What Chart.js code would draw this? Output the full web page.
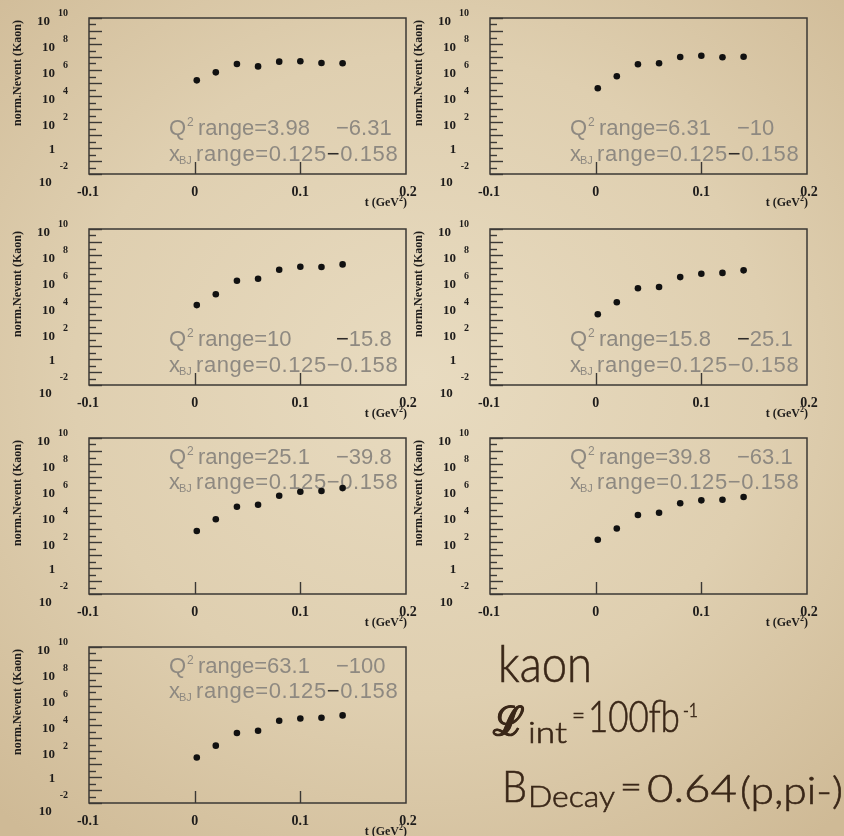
<!DOCTYPE html>
<html><head><meta charset="utf-8">
<script src="https://cdn.jsdelivr.net/npm/chart.js@4.4.1/dist/chart.umd.min.js"></script>
<style>
html,body{margin:0;padding:0;width:844px;height:836px;overflow:hidden;}
#page{position:relative;width:844px;height:836px;
  background:radial-gradient(ellipse 75% 70% at 50% 45%, #e8dbc0 0%, #dfcfb0 55%, #cfba96 100%);}
canvas{position:absolute;}
</style></head>
<body><div id="page">
<canvas id="p0" width="420" height="210" style="left:0;top:0"></canvas>
<canvas id="p1" width="420" height="210" style="left:401px;top:0"></canvas>
<canvas id="p2" width="420" height="210" style="left:0;top:211px"></canvas>
<canvas id="p3" width="420" height="210" style="left:401px;top:211px"></canvas>
<canvas id="p4" width="420" height="210" style="left:0;top:420px"></canvas>
<canvas id="p5" width="420" height="210" style="left:401px;top:420px"></canvas>
<canvas id="p6" width="420" height="210" style="left:0;top:629px"></canvas>
<canvas id="note" width="384" height="216" style="left:460px;top:620px"></canvas>
</div>
<script>
// ---------------- data ----------------
const tValues = [0.002, 0.02, 0.04, 0.06, 0.08, 0.10, 0.12, 0.14];
const nQ2_398_631  = [1.6e5, 6.6e5, 2.9e6, 1.9e6, 4.4e6, 4.7e6, 3.5e6, 3.3e6];
const nQ2_631_10   = [3.9e4, 3.3e5, 2.8e6, 3.3e6, 1.0e7, 1.26e7, 9.5e6, 1.05e7];
const nQ2_10_158   = [1.4e4, 9.5e4, 1.05e6, 1.5e6, 7.4e6, 1.26e7, 1.2e7, 1.9e7];
const nQ2_158_251  = [2.8e3, 2.3e4, 2.8e5, 3.5e5, 2.0e6, 3.6e6, 4.2e6, 6.6e6];
const nQ2_251_398  = [710, 5.6e3, 5.2e4, 7.4e4, 3.6e5, 7.4e5, 8.3e5, 1.4e6];
const nQ2_398_631b = [150, 1.1e3, 1.2e4, 1.8e4, 9.5e4, 1.6e5, 1.8e5, 2.9e5];
const nQ2_631_100  = [32, 257, 2.4e3, 3.6e3, 2.1e4, 3.2e4, 3.6e4, 5.5e4];
const seriesList = [nQ2_398_631, nQ2_631_10, nQ2_10_158, nQ2_158_251, nQ2_251_398, nQ2_398_631b, nQ2_631_100];
const q2Low  = ["3.98", "6.31", "10", "15.8", "25.1", "39.8", "63.1"];
const q2High = ["6.31", "10", "15.8", "25.1", "39.8", "63.1", "100"];
const xbjLow = "0.125";
const xbjHigh = "0.158";
const yTickExponents = [-2, 0, 2, 4, 6, 8, 10];
const xTickLabels = ["-0.1", "0", "0.1", "0.2"];
const yTitle = "norm.Nevent (Kaon)";
const xTitle = "t (GeV";

// ---------------- styles (not data) ----------------
const textAbove = [false, false, false, false, true, true, true];
const dark1 = [false, false, true, true, false, false, false];
const dark2 = [true, true, false, false, false, false, true];
const FRAME = '#3b3835';
const GRAY = '#8e8981';
const DARK = '#2e2b29';

function drawPanelDecor(chart, idx) {
  const ctx = chart.ctx;
  const a = chart.chartArea;
  const xs = chart.scales.x, ys = chart.scales.y;
  ctx.save();
  ctx.strokeStyle = FRAME; ctx.lineWidth = 1.5;
  ctx.strokeRect(a.left, a.top, a.right - a.left, a.bottom - a.top);
  ctx.lineWidth = 1.4;
  for (let k = -4; k <= 20; k++) {
    const e = k / 2;
    const y = Math.round(ys.getPixelForValue(Math.pow(10, e))) + 0.5;
    const len = (k % 2 === 0) ? 13 : 7;
    ctx.beginPath(); ctx.moveTo(a.left, y); ctx.lineTo(a.left + len, y); ctx.stroke();
  }
  xTickLabels.forEach(l => {
    const v = parseFloat(l);
    if (v <= xs.min || v >= xs.max) return;
    const x = Math.round(xs.getPixelForValue(v)) + 0.5;
    ctx.beginPath(); ctx.moveTo(x, a.bottom); ctx.lineTo(x, a.bottom - 12); ctx.stroke();
  });
  ctx.fillStyle = '#1e1c1b';
  ctx.textBaseline = 'middle';
  yTickExponents.forEach(e => {
    const y = ys.getPixelForValue(Math.pow(10, e));
    if (e === 0) {
      ctx.font = 'bold 13px "Liberation Serif"'; ctx.textAlign = 'center';
      ctx.fillText('1', a.left - 37, y + 2);
      return;
    }
    const bottom = (e === yTickExponents[0]);
    const expStr = String(e);
    ctx.font = 'bold 10px "Liberation Serif"'; ctx.textAlign = 'right';
    const expRight = a.left - 21;
    const ew = ctx.measureText(expStr).width;
    ctx.fillText(expStr, expRight, y + (bottom ? -8 : -5));
    ctx.font = 'bold 13px "Liberation Serif"';
    ctx.fillText('10', expRight - ew - 8, y + (bottom ? 9 : 3.5));
  });
  ctx.font = 'bold 14px "Liberation Serif"'; ctx.textAlign = 'center';
  xTickLabels.forEach((l, i) => {
    const v = parseFloat(l);
    let x = xs.getPixelForValue(v);
    if (i === 0) x -= 1;
    if (i === xTickLabels.length - 1) x += 2;
    ctx.fillText(l, x, a.bottom + 18);
  });
  ctx.font = 'bold 12px "Liberation Serif"'; ctx.textAlign = 'left'; ctx.textBaseline = 'alphabetic';
  const w1 = ctx.measureText(xTitle).width;
  ctx.font = 'bold 8px "Liberation Serif"';
  const w2 = ctx.measureText('2').width;
  ctx.font = 'bold 12px "Liberation Serif"';
  const w3 = ctx.measureText(')').width;
  const tx = a.right + 1 - (w1 + w2 + w3);
  ctx.fillText(xTitle, tx, a.bottom + 32);
  ctx.font = 'bold 8px "Liberation Serif"';
  ctx.fillText('2', tx + w1, a.bottom + 27);
  ctx.font = 'bold 12px "Liberation Serif"';
  ctx.fillText(')', tx + w1 + w2, a.bottom + 32);
  ctx.save();
  ctx.translate(a.left - 71, a.top);
  ctx.rotate(-Math.PI / 2);
  ctx.font = 'bold 12px "Liberation Serif"'; ctx.textAlign = 'right'; ctx.textBaseline = 'middle';
  ctx.fillText(yTitle, -2, 0);
  ctx.restore();
  // annotation text
  const x0 = a.left + 80;
  const b1 = textAbove[idx] ? a.top + 26 : a.top + 117;
  const b2 = textAbove[idx] ? a.top + 51 : a.top + 143;
  ctx.textAlign = 'left'; ctx.textBaseline = 'alphabetic';
  const F = '22px "Liberation Sans"';
  ctx.fillStyle = GRAY;
  ctx.font = F; ctx.fillText('Q', x0, b1);
  ctx.font = '12px "Liberation Sans"'; ctx.fillText('2', x0 + 18, b1 - 9);
  ctx.font = F; ctx.fillText('range=' + q2Low[idx], x0 + 29, b1);
  ctx.fillStyle = dark1[idx] ? DARK : GRAY;
  ctx.fillText('\u2212', x0 + 167, b1);
  const dw = ctx.measureText('\u2212').width;
  ctx.fillStyle = GRAY;
  ctx.fillText(q2High[idx], x0 + 167 + dw, b1);
  ctx.font = F; ctx.fillText('x', x0, b2);
  ctx.font = '11px "Liberation Sans"'; ctx.fillText('BJ', x0 + 10, b2 + 3);
  ctx.font = F;
  ctx.letterSpacing = '0.6px';
  const s1 = 'range=' + xbjLow;
  ctx.fillText(s1, x0 + 27, b2);
  let xx = x0 + 27 + ctx.measureText(s1).width;
  ctx.fillStyle = dark2[idx] ? DARK : GRAY;
  ctx.fillText('\u2212', xx, b2);
  xx += ctx.measureText('\u2212').width;
  ctx.fillStyle = GRAY;
  ctx.fillText(xbjHigh, xx, b2);
  ctx.letterSpacing = '0px';
  ctx.restore();
}

seriesList.forEach((vals, idx) => {
  const cv = document.getElementById('p' + idx);
  new Chart(cv, {
    type: 'scatter',
    data: { datasets: [{
      data: tValues.map((t, i) => ({ x: t, y: vals[i] })),
      pointRadius: 3.3, pointHoverRadius: 3.3,
      pointBackgroundColor: '#111', pointBorderColor: '#111', pointBorderWidth: 0,
      showLine: false
    }]},
    options: {
      responsive: false, animation: false, devicePixelRatio: 1,
      layout: { padding: { left: 89, top: 18, right: 14, bottom: 36 } },
      plugins: { legend: { display: false }, tooltip: { enabled: false } },
      events: [],
      scales: {
        x: { type: 'linear', min: -0.1, max: 0.2, display: false },
        y: { type: 'logarithmic', min: 1e-2, max: 1e10, display: false }
      }
    },
    plugins: [{ id: 'rootDecor', beforeDatasetsDraw(chart) { drawPanelDecor(chart, idx); } }]
  });
});

// ---------------- bottom-right note ----------------
(function () {
  const c = document.getElementById('note');
  const ctx = c.getContext('2d');
  const OX = 460, OY = 620;
  ctx.fillStyle = '#3a2718';
  ctx.strokeStyle = '#3a2718';
  ctx.lineWidth = 0.6;
  ctx.textBaseline = 'alphabetic'; ctx.textAlign = 'left';
  function put(text, font, x, base, width) {
    ctx.save();
    ctx.font = font;
    const m = ctx.measureText(text).width;
    ctx.translate(x - OX, base - OY);
    ctx.scale(width / m, 1);
    ctx.fillText(text, 0, 0);
    ctx.strokeText(text, 0, 0);
    ctx.restore();
  }
  const L = '300 ';
  put('kaon', L + '52px Lato', 498, 682, 94);
  put('\u2112', 'bold 40px "DejaVu Serif"', 493, 735, 31);
  put('int', L + '30px Lato', 528, 743, 39);
  put('=', L + '26px Lato', 572, 724, 13);
  put('100fb', L + '44px Lato', 588, 732, 92);
  put('-1', L + '19px Lato', 683, 717, 15);
  put('B', L + '44px Lato', 502, 802, 25);
  put('Decay', L + '30px Lato', 528, 807, 87);
  put('=', L + '30px Lato', 620, 797, 22);
  put('0.64', L + '38px Lato', 647, 802, 90);
  put('(p,pi-)', L + '38px Lato', 740, 804, 103);
})();
</script>
</body></html>
